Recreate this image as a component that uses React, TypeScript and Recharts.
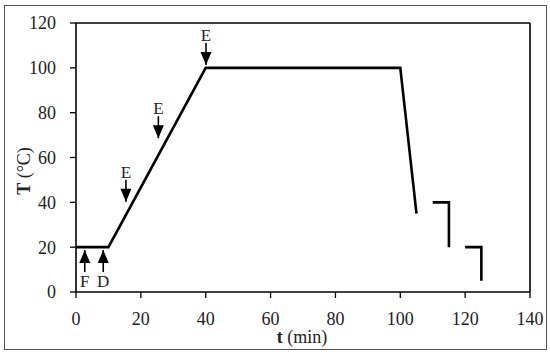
import {
  ComposedChart,
  Line,
  Scatter,
  XAxis,
  YAxis,
  ReferenceLine,
  Label,
} from 'recharts'

// temperature program, t (min) vs T (°C)
const rampTimes = [0, 10, 40, 100, 105]
const rampTemps = [20, 20, 100, 100, 35]
const step1Times = [110, 115, 115]
const step1Temps = [40, 40, 20]
const step2Times = [120, 125, 125]
const step2Temps = [20, 20, 5]

// sampling arrows
const arrowTimes = [2.7, 8.4, 15.4, 25.4, 40.1]
const arrowTemps = [18.7, 18.7, 40.3, 68.6, 101.3]
const arrowLabels = ['F', 'D', 'E', 'E', 'E']
const arrowDirs = ['up', 'up', 'down', 'down', 'down']

const xTicks = [0, 20, 40, 60, 80, 100, 120, 140]
const yTicks = [0, 20, 40, 60, 80, 100, 120]

const toPoints = (ts: number[], vs: number[]) => ts.map((t, i) => ({ t, T: vs[i] }))

const ramp = toPoints(rampTimes, rampTemps)
const step1 = toPoints(step1Times, step1Temps)
const step2 = toPoints(step2Times, step2Temps)
const arrows = arrowTimes.map((t, i) => ({
  t,
  T: arrowTemps[i],
  label: arrowLabels[i],
  dir: arrowDirs[i],
}))

const FONT = '"Liberation Serif", serif'
const tickStyle = { fontSize: 18, fill: '#222', fontFamily: FONT }

function Arrow(props: any) {
  const { cx, cy, payload } = props
  const s = payload.dir === 'up' ? 1 : -1 // up: shaft below tip
  return (
    <g>
      <line x1={cx} y1={cy} x2={cx} y2={cy + s * 22} stroke="#000" strokeWidth={1.6} />
      <path
        d={`M${cx},${cy} L${cx - 5.5},${cy + s * 13} L${cx + 5.5},${cy + s * 13} Z`}
        fill="#000"
      />
      <text
        x={cx}
        y={payload.dir === 'up' ? cy + 37 : cy - 24}
        textAnchor="middle"
        fontFamily={FONT}
        fontSize={17}
        fill="#222"
      >
        {payload.label}
      </text>
    </g>
  )
}

export default function App() {
  return (
    <div style={{ position: 'absolute', left: 0, top: 0, width: 550, height: 355, background: '#fff' }}>
      <div
        style={{
          position: 'absolute',
          left: 4,
          top: 5,
          width: 543,
          height: 345,
          boxSizing: 'border-box',
          border: '1px solid #555',
        }}
      />
      <div style={{ position: 'absolute', left: 0, top: 0 }}>
        <ComposedChart width={550} height={355} margin={{ top: 23, right: 20, bottom: 0, left: 0 }}>
          <XAxis
            type="number"
            dataKey="t"
            domain={[0, 140]}
            ticks={xTicks}
            height={63}
            tick={tickStyle}
            tickSize={6}
            tickMargin={14}
            axisLine={{ stroke: '#000', strokeWidth: 1.6 }}
            tickLine={{ stroke: '#000', strokeWidth: 1.3 }}
          >
            <Label
              content={() => (
                <text x={302} y={343} textAnchor="middle" fontFamily={FONT} fontSize={18} fill="#222">
                  <tspan fontWeight="bold">t</tspan> (min)
                </text>
              )}
            />
          </XAxis>
          <YAxis
            type="number"
            dataKey="T"
            domain={[0, 120]}
            ticks={yTicks}
            width={76}
            tick={tickStyle}
            tickSize={6}
            tickMargin={14}
            axisLine={{ stroke: '#000', strokeWidth: 1.6 }}
            tickLine={{ stroke: '#000', strokeWidth: 1.3 }}
          >
            <Label
              content={() => (
                <text
                  x={30}
                  y={171}
                  transform="rotate(-90 30 171)"
                  textAnchor="middle"
                  fontFamily={FONT}
                  fontSize={18}
                  fill="#222"
                >
                  <tspan fontWeight="bold">T</tspan> (°C)
                </text>
              )}
            />
          </YAxis>
          <ReferenceLine y={120} stroke="#000" strokeWidth={1.6} />
          <ReferenceLine x={140} stroke="#000" strokeWidth={1.6} />
          <Line data={ramp} dataKey="T" stroke="#000" strokeWidth={2.6} dot={false} isAnimationActive={false} />
          <Line data={step1} dataKey="T" stroke="#000" strokeWidth={2.6} dot={false} isAnimationActive={false} />
          <Line data={step2} dataKey="T" stroke="#000" strokeWidth={2.6} dot={false} isAnimationActive={false} />
          <Scatter data={arrows} dataKey="T" shape={<Arrow />} isAnimationActive={false} />
        </ComposedChart>
      </div>
    </div>
  )
}
